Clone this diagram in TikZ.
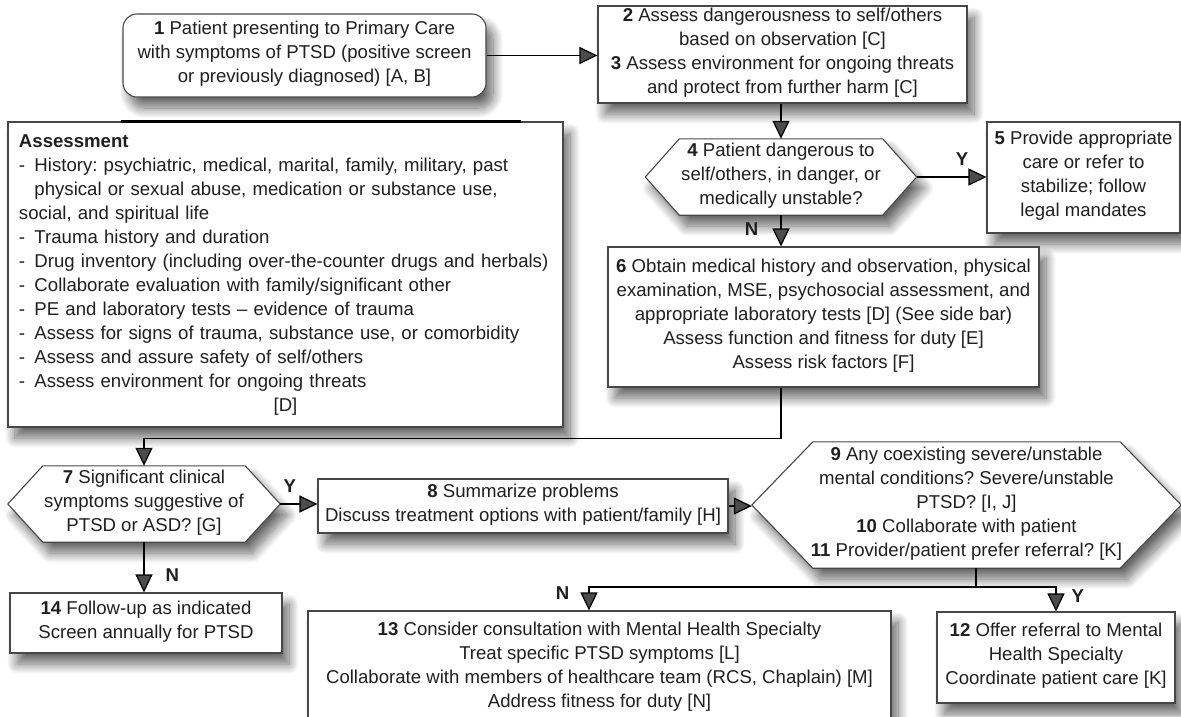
\documentclass[tikz,border=0pt]{standalone}
\usepackage{fontspec}
\setmainfont{Liberation Sans}
\usepackage{tikz}
\usetikzlibrary{arrows.meta}
\usetikzlibrary{calc}
\usetikzlibrary{positioning}
\usetikzlibrary{shadows.blur}
\pgfdeclarelayer{background}
\pgfsetlayers{background,main}
\newcommand\dashitem{\makebox[15.5pt][l]{-}}
\frenchspacing

\begin{document}
\begin{tikzpicture}
	[
	x=1pt, y=-1pt,
	every node/.style={font=\fontsize{18.6}{24}\selectfont, text=black!88, inner sep=0pt,
		execute at begin node=\strut, execute at end node=\strut},
	> = {Triangle[length=18pt,width=17pt]},
	soft shadow/.style = {blur shadow={shadow xshift=7pt, shadow yshift=-11pt, shadow blur radius=10pt, shadow blur steps=14, shadow opacity=60}},
	flowbox/.style = {draw=black!72, line width=1.1pt, fill=white, soft shadow, align=center},
	hexa/.style = {align=center},
	hexline/.style = {draw=black!72, line width=1.1pt, fill=white, soft shadow},
	conn/.style = {line width=1.2pt},
	yn/.style = {font=\fontsize{18.6}{24}\selectfont\bfseries}
	]
	\useasboundingbox (0,0) rectangle (1181,716);

	\coordinate (@1) at (304.5,55.5);
	\coordinate (@2) at (782.5,54.5);
	\coordinate (@4) at (781,177);
	\coordinate (@5) at (1083.5,177.5);
	\coordinate (@6) at (823.5,317);
	\coordinate (@a) at (285.5,274.5);
	\coordinate (@7) at (144,504);
	\coordinate (@8) at (523,506);
	\coordinate (@9) at (966.5,505);
	\coordinate (@12) at (1056,657.5);
	\coordinate (@13) at (599.5,668.5);
	\coordinate (@14) at (146,623);
	\coordinate (split) at (976,587);

	% boxes
	\node[flowbox, rounded corners=14pt, minimum width=363pt, minimum height=83pt] (s1) at (@1)
		{\textbf{1} Patient presenting to Primary Care\\with symptoms of PTSD (positive screen\\or previously diagnosed) [A, B]};
	\node[flowbox, minimum width=369pt, minimum height=97pt] (s2) at (@2)
		{\textbf{2} Assess dangerousness to self/others\\based on observation [C]\\\textbf{3} Assess environment for ongoing threats\\and protect from further harm [C]};
	\node[flowbox, minimum width=193pt, minimum height=111pt] (s5) at (@5)
		{\textbf{5} Provide appropriate\\care or refer to\\stabilize; follow\\legal mandates};
	\node[flowbox, minimum width=431pt, minimum height=140pt] (s6) at (@6)
		{\textbf{6} Obtain medical history and observation, physical\\examination, MSE, psychosocial assessment, and\\appropriate laboratory tests [D] (See side bar)\\Assess function and fitness for duty [E]\\Assess risk factors [F]};
	\node[flowbox, align=left, text width=533pt, inner xsep=11pt, minimum height=305pt] (sA) at (@a)
		{\textbf{Assessment}\\
		\dashitem History: psychiatric, medical, marital, family, military, past\\
		\hspace*{15.5pt}physical or sexual abuse, medication or substance use,\\
		social, and spiritual life\\
		\dashitem Trauma history and duration\\
		\dashitem Drug inventory (including over-the-counter drugs and herbals)\\
		\dashitem Collaborate evaluation with family/significant other\\
		\dashitem PE and laboratory tests -- evidence of trauma\\
		\dashitem Assess for signs of trauma, substance use, or comorbidity\\
		\dashitem Assess and assure safety of self/others\\
		\dashitem Assess environment for ongoing threats\\
		\makebox[533pt]{[D]}};
	\draw[line width=2.4pt] ([xshift=114pt]sA.north west) -- ([xshift=514pt]sA.north west);
	\node[flowbox, minimum width=410pt, minimum height=54pt] (s8) at (@8)
		{\textbf{8} Summarize problems\\Discuss treatment options with patient/family [H]};
	\node[flowbox, minimum width=238pt, minimum height=91pt] (s12) at (@12)
		{\textbf{12} Offer referral to Mental\\Health Specialty\\Coordinate patient care [K]};
	\node[flowbox, minimum width=583pt, minimum height=115pt] (s13) at (@13)
		{\textbf{13} Consider consultation with Mental Health Specialty\\Treat specific PTSD symptoms [L]\\Collaborate with members of healthcare team (RCS, Chaplain) [M]\\Address fitness for duty [N]};
	\node[flowbox, minimum width=272pt, minimum height=60pt] (s14) at (@14)
		{\textbf{14} Follow-up as indicated\\Screen annually for PTSD};

	% decisions
	\node[hexa, minimum width=271pt, minimum height=76pt] (s4) at (@4)
		{\textbf{4} Patient dangerous to\\self/others, in danger, or\\medically unstable?};
	\node[hexa, minimum width=272pt, minimum height=76pt] (s7) at (@7)
		{\textbf{7} Significant clinical\\symptoms suggestive of\\PTSD or ASD? [G]};
	\node[hexa, minimum width=429pt, minimum height=126pt] (s9) at (@9)
		{\textbf{9} Any coexisting severe/unstable\\mental conditions? Severe/unstable\\PTSD? [I, J]\\\textbf{10} Collaborate with patient\\\textbf{11} Provider/patient prefer referral? [K]};
	\begin{pgfonlayer}{background}
		\path[hexline] (s4.west) -- ([xshift=34pt]s4.north west) -- ([xshift=-34pt]s4.north east) -- (s4.east)
			-- ([xshift=-34pt]s4.south east) -- ([xshift=34pt]s4.south west) -- cycle;
		\path[hexline] (s7.west) -- ([xshift=35pt]s7.north west) -- ([xshift=-35pt]s7.north east) -- (s7.east)
			-- ([xshift=-35pt]s7.south east) -- ([xshift=35pt]s7.south west) -- cycle;
		\path[hexline] (s9.west) -- ([xshift=61pt]s9.north west) -- ([xshift=-61pt]s9.north east) -- (s9.east)
			-- ([xshift=-61pt]s9.south east) -- ([xshift=61pt]s9.south west) -- cycle;
	\end{pgfonlayer}

	% connectors
	\draw[conn,->] (s1.east) -- (s1.east -| s2.west);
	\draw[conn,->] (s2.south -| s4.north) -- (s4.north);
	\draw[conn,->] (s4.east) -- (s4.east -| s5.west) node[yn, pos=0.65, above=4pt] {Y};
	\draw[conn,->] (s4.south) -- (s4.south |- s6.north) node[yn, pos=0.5, left=22pt] {N};
	\draw[conn,->] (s6.south -| s4.south) -- ++(0,51) -| (s7.north);
	\draw[conn,->] (s7.east) -- (s7.east -| s8.west) node[yn, pos=0.26, above=4pt] {Y};
	\draw[conn,->] (s7.south) -- (s7.south |- s14.north) node[yn, pos=0.69, right=21pt] {N};
	\draw[conn,->] (s8.east) -- (s8.east -| s9.west);
	\draw[conn] (s9.south -| split) -- (split);
	\draw[conn,->] (split) -| ([xshift=-10.5pt]s13.north) node[yn, pos=0.67, left=19pt] {N};
	\draw[conn,->] (split) -| (s12.north) node[yn, pos=0.71, right=15pt] {Y};

\end{tikzpicture}
\end{document}
